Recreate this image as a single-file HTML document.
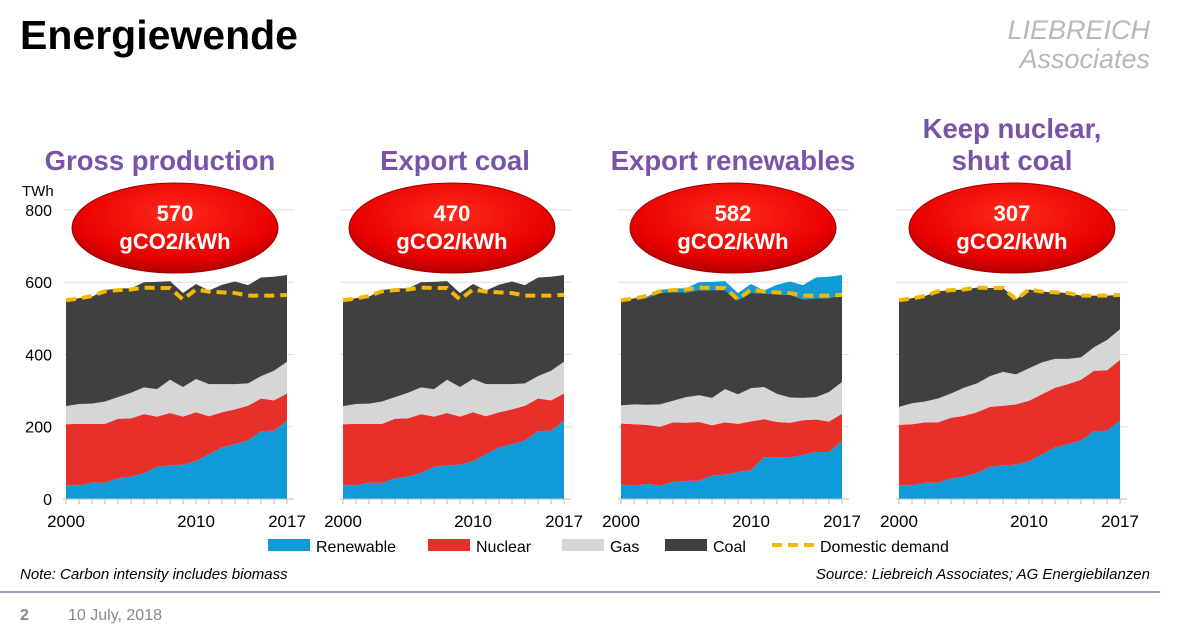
<!DOCTYPE html>
<html><head><meta charset="utf-8"><style>
body{margin:0;background:#fff;font-family:"Liberation Sans",Arial,sans-serif}
svg{display:block}
</style></head><body>
<svg width="1200" height="641" viewBox="0 0 1200 641">
<defs>
<radialGradient id="rg" cx="0.5" cy="0.35" r="0.7">
<stop offset="0" stop-color="#ff2a1a"/><stop offset="0.7" stop-color="#e80000"/><stop offset="1" stop-color="#a00000"/>
</radialGradient>
</defs>
<text x="20" y="49" font-size="41" font-weight="bold" fill="#000">Energiewende</text>
<text x="1150" y="39" font-size="27" font-style="italic" fill="#b8b8b8" text-anchor="end">LIEBREICH</text>
<text x="1150" y="68" font-size="27" font-style="italic" fill="#b8b8b8" text-anchor="end">Associates</text>
<g id="charts"></g>
<g font-size="16" fill="#000">
<rect x="268" y="539" width="42" height="12" fill="#109bd8"/><text x="316" y="552">Renewable</text>
<rect x="428" y="539" width="42" height="12" fill="#e8302a"/><text x="476" y="552">Nuclear</text>
<rect x="562" y="539" width="42" height="12" fill="#d6d6d6"/><text x="610" y="552">Gas</text>
<rect x="665" y="539" width="42" height="12" fill="#404040"/><text x="713" y="552">Coal</text>
<line x1="772" y1="545" x2="814" y2="545" stroke="#f5b800" stroke-width="4" stroke-dasharray="10,6"/><text x="820" y="552">Domestic demand</text>
</g>
<text x="20" y="579" font-size="15" font-style="italic">Note: Carbon intensity includes biomass</text>
<text x="1150" y="579" font-size="15" font-style="italic" text-anchor="end">Source: Liebreich Associates; AG Energiebilanzen</text>
<line x1="0" y1="592" x2="1160" y2="592" stroke="#8a78a8" stroke-width="1.5"/>
<text x="20" y="620" font-size="16" font-weight="bold" fill="#888">2</text>
<text x="68" y="620" font-size="16" fill="#888">10 July, 2018</text>
</svg>
<script>
const years=[2000,2001,2002,2003,2004,2005,2006,2007,2008,2009,2010,2011,2012,2013,2014,2015,2016,2017];
const renewable=[38,38,45,45,57,62,72,89,93,95,105,124,143,152,162,188,189,217];
const nuclear=[169,170,163,163,165,161,163,139,145,133,135,105,97,96,96,90,84,75];
const gas=[50,55,56,62,60,71,74,76,92,82,92,89,78,70,62,62,82,88];
const coal=[291,293,296,308,301,289,291,297,273,260,263,259,275,284,272,273,260,240];
const demand=[550,555,562,575,578,580,585,584,584,552,580,574,572,570,563,563,563,565];
const renewableDomestic3=[40,37,42,37,47,50,50,65,67,75,80,116,116,115,122,130,130,161];
const nuclear4=[167,169,167,167,168,168,168,166,165,167,167,166,165,166,168,167,167,168];
const gas4=[50,58,58,66,67,78,80,85,94,83,90,88,80,70,62,65,84,85];
const coal4=[293,291,292,297,286,272,265,244,232,207,218,196,184,182,171,143,123,95];
const titles=[["Gross production"],["Export coal"],["Export renewables"],["Keep nuclear,","shut coal"]];
const intensities=["570","470","582","307"];
const yTicks=[0,200,400,600,800];
const xTickLabels=["2000","2010","2017"];

const NS="http://www.w3.org/2000/svg";
const root=document.getElementById('charts');
const C={ren:"#109bd8",nuc:"#e8302a",gas:"#d6d6d6",coal:"#404040"};
function el(t,a,p){const e=document.createElementNS(NS,t);for(const k in a)e.setAttribute(k,a[k]);(p||root).appendChild(e);return e;}
const yS=v=>499-v*0.3613;
const exportRen=renewable.map((v,i)=>v-renewableDomestic3[i]);
const charts=[
 [[renewable,C.ren],[nuclear,C.nuc],[gas,C.gas],[coal,C.coal]],
 [[renewable,C.ren],[nuclear,C.nuc],[gas,C.gas],[coal,C.coal]],
 [[renewableDomestic3,C.ren],[nuclear,C.nuc],[gas,C.gas],[coal,C.coal],[exportRen,C.ren]],
 [[renewable,C.ren],[nuclear4,C.nuc],[gas4,C.gas],[coal4,C.coal]]
];
const layerNames=['renewable','nuclear','gas','coal','renewable-export'];
const x0s=[66,343,621,899];const cxs=[160,455,733,1012];
charts.forEach((layers,ci)=>{
 const x0=x0s[ci];
 const xS=y=>x0+(y-2000)*(221/17);
 const g=el('g',{});
 
 
 yTicks.forEach(t=>{if(t>0){const l=el('line',{x1:x0-3,x2:x0+228,y1:yS(t),y2:yS(t),stroke:'#ddd','stroke-width':1},g);
  }
  if(ci===0){const tx=el('text',{x:52,y:yS(t)+6,'font-size':16,'text-anchor':'end'},g);tx.textContent=t;
  }});
 let base=years.map(()=>0);
 layers.forEach(([vals,col],li)=>{
  const top=base.map((b,i)=>b+vals[i]);
  let d='M'+years.map((y,i)=>xS(y)+','+yS(top[i])).join('L');
  for(let i=years.length-1;i>=0;i--)d+='L'+xS(years[i])+','+yS(base[i]);
  const p=el('path',{d:d+'Z',fill:col},g);
  
  
  base=top;
 });
 const dl=el('polyline',{points:years.map((y,i)=>xS(y)+','+yS(demand[i])).join(' '),fill:'none',stroke:'#f5b800','stroke-width':4,'stroke-dasharray':'10,6'},g);
 
 
 el('line',{x1:x0-3,x2:x0+228,y1:499,y2:499,stroke:'#bbb'},g);
 years.forEach(y=>el('line',{x1:xS(y),x2:xS(y),y1:499,y2:504,stroke:'#bbb'},g));
 xTickLabels.forEach(t=>{const tx=el('text',{x:xS(+t),y:527,'font-size':17,'text-anchor':'middle'},g);tx.textContent=t;
  });
 const tl=titles[ci];
 tl.forEach((s,k)=>{const tx=el('text',{x:cxs[ci],y:(tl.length===2?138:170)+k*32,'font-size':27.5,'font-weight':'bold',fill:'#7a52a8','text-anchor':'middle'},g);tx.textContent=s;
  });
 const ex=[175,452,733,1012][ci];
 const e=el('ellipse',{cx:ex,cy:228,rx:103,ry:45,fill:'url(#rg)',stroke:'#900','stroke-width':1},g);
 
 
 [intensities[ci],'gCO2/kWh'].forEach((s,k)=>{const tx=el('text',{x:ex,y:221+k*28,'font-size':22,'font-weight':'bold',fill:'#fff','text-anchor':'middle'},g);tx.textContent=s;
  });
 if(ci===0){const tx=el('text',{x:22,y:196,'font-size':15},g);tx.textContent='TWh';
  }
});
</script>
</body></html>
